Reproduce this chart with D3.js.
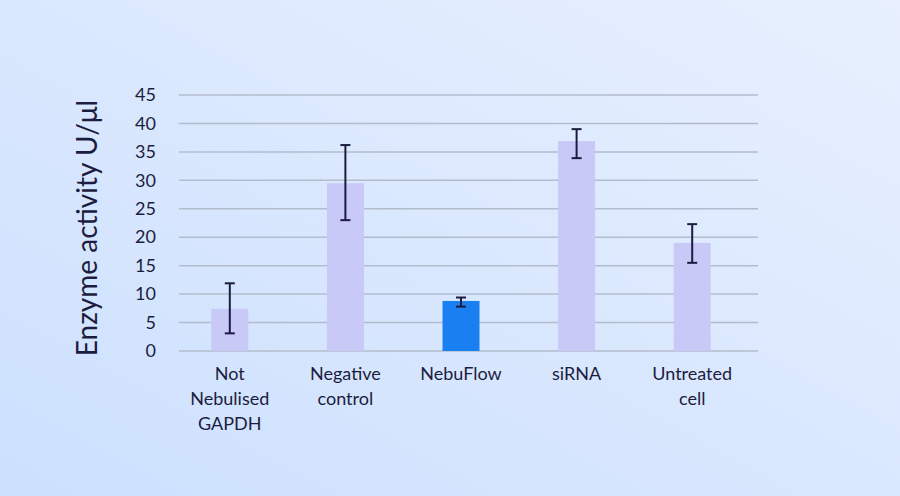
<!DOCTYPE html>
<html>
<head>
<meta charset="utf-8">
<script src="https://cdn.jsdelivr.net/npm/d3@7"></script>
<style>
  html, body { margin: 0; padding: 0; }
  svg { display: block; }
</style>
</head>
<body>
<svg width="900" height="496"></svg>
<script>
// data
const categories = [["Not", "Nebulised", "GAPDH"], ["Negative", "control"], ["NebuFlow"], ["siRNA"], ["Untreated", "cell"]];
const values = [7.4, 29.5, 8.8, 36.9, 19.0];
const errLow = [3.1, 23.0, 7.8, 33.9, 15.5];
const errHigh = [11.9, 36.2, 9.4, 39.0, 22.3];
const highlight = [false, false, true, false, false];
const yTicks = [0, 5, 10, 15, 20, 25, 30, 35, 40, 45];

const svg = d3.select("svg");
const W = 900, H = 496;
const font = "Lato, 'Noto Sans', sans-serif";
const ink = "#1c1c40";

// background gradient
const defs = svg.append("defs");
const grad = defs.append("linearGradient").attr("id", "bg")
  .attr("x1", "0%").attr("y1", "100%").attr("x2", "100%").attr("y2", "0%");
grad.append("stop").attr("offset", "0%").attr("stop-color", "#cce0fe");
grad.append("stop").attr("offset", "100%").attr("stop-color", "#e8f0fe");
svg.append("rect").attr("width", W).attr("height", H).attr("fill", "url(#bg)");

const mLeft = 179, mRight = 758, mTop = 95, mBottom = 351;

// bands sit a little left of the grid centre, as in the original
const x = d3.scaleBand().domain(d3.range(values.length)).range([172, 750]).paddingInner(0.68).paddingOuter(0.34);
const y = d3.scaleLinear().domain([0, 45]).range([mBottom, mTop]);

// gridlines
svg.append("g").selectAll("line").data(yTicks).join("line")
  .attr("x1", mLeft).attr("x2", mRight)
  .attr("y1", d => y(d)).attr("y2", d => y(d))
  .attr("stroke", "#b3bccc").attr("stroke-width", 1.5);

// y axis labels
const yAxis = svg.append("g").attr("transform", `translate(${mLeft},0)`)
  .call(d3.axisLeft(y).tickValues(yTicks).tickSize(0).tickPadding(23));
yAxis.select(".domain").remove();
yAxis.selectAll("text").attr("font-family", font).attr("font-size", 18).attr("fill", ink);

// bars
svg.append("g").selectAll("rect").data(values).join("rect")
  .attr("x", (d, i) => x(i)).attr("width", x.bandwidth())
  .attr("y", d => y(d)).attr("height", d => y(0) - y(d))
  .attr("fill", (d, i) => highlight[i] ? "#1a80f2" : "#c8c9f6");

// error bars
const eb = svg.append("g").attr("stroke", ink).attr("stroke-width", 2);
values.forEach((v, i) => {
  const cx = x(i) + x.bandwidth() / 2;
  eb.append("line").attr("x1", cx).attr("x2", cx).attr("y1", y(errLow[i])).attr("y2", y(errHigh[i]));
  eb.append("line").attr("x1", cx - 5).attr("x2", cx + 5).attr("y1", y(errLow[i])).attr("y2", y(errLow[i]));
  eb.append("line").attr("x1", cx - 5).attr("x2", cx + 5).attr("y1", y(errHigh[i])).attr("y2", y(errHigh[i]));
});

// x labels
const xl = svg.append("g");
categories.forEach((lines, i) => {
  const cx = x(i) + x.bandwidth() / 2;
  const t = xl.append("text").attr("x", cx).attr("y", 380)
    .attr("text-anchor", "middle").attr("font-family", font).attr("font-size", 18).attr("fill", ink);
  lines.forEach((s, k) => t.append("tspan").attr("x", cx).attr("dy", k === 0 ? 0 : 25).text(s));
});

// y title
svg.append("text")
  .attr("transform", `translate(97,${(mTop + mBottom) / 2 + 5}) rotate(-90)`)
  .attr("text-anchor", "middle").attr("font-family", font).attr("font-size", 28).attr("fill", ink)
  .text("Enzyme activity U/μl");
</script>
</body>
</html>
